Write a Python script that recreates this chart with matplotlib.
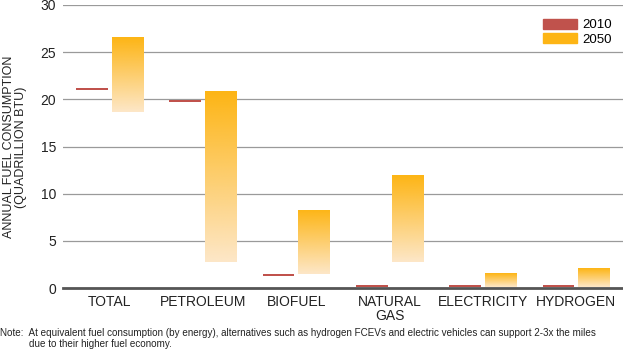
import numpy as np
import matplotlib
matplotlib.use("Agg")
import matplotlib.pyplot as plt
from matplotlib.colors import LinearSegmentedColormap
from matplotlib.patches import Patch

plt.rcParams['font.family'] = ['Liberation Sans', 'DejaVu Sans']

# data (quadrillion BTU)
categories = ['TOTAL', 'PETROLEUM', 'BIOFUEL', 'NATURAL\nGAS', 'ELECTRICITY', 'HYDROGEN']
val_2010 = [21.1, 19.8, 1.4, 0.2, 0.2, 0.2]
low_2050 = [18.7, 2.8, 1.5, 2.8, 0.15, 0.15]
high_2050 = [26.6, 20.9, 8.3, 12.0, 1.6, 2.1]

c2010 = '#c0524c'
c2050 = '#fdb515'
grad = LinearSegmentedColormap.from_list('g', ['#fde7c8', '#fdb515'])

fig = plt.figure(figsize=(6.23, 3.5), dpi=100)
ax = fig.add_axes([63/623, 62/350, 560/623, 283/350])

x = np.arange(len(categories))
w = 0.34

# 2010: thin line marks
ax.bar(x - 0.19, 0.22, bottom=np.array(val_2010) - 0.11, width=w, color=c2010, zorder=3)

# 2050: floating bars with vertical gradient
bars = ax.bar(x + 0.19, np.array(high_2050) - np.array(low_2050), bottom=low_2050,
              width=w, color='none', zorder=3)
g = np.linspace(0, 1, 256).reshape(-1, 1)
for b in bars:
    x0, y0 = b.get_x(), b.get_y()
    im = ax.imshow(g, cmap=grad, origin='lower', aspect='auto', zorder=3,
                   extent=[x0, x0 + b.get_width(), y0, y0 + b.get_height()])
    im.set_clip_path(b)

ax.set_xlim(-0.5, 5.5)
ax.set_ylim(0, 30)
ax.set_yticks(np.arange(0, 31, 5))
ax.yaxis.grid(True, color='#9a9a9a', linewidth=0.9)
ax.set_axisbelow(True)
for s in ['left', 'right', 'top']:
    ax.spines[s].set_visible(False)
ax.spines['bottom'].set_color('#555555')
ax.spines['bottom'].set_linewidth(2)
ax.tick_params(axis='both', length=0, labelsize=10, colors='#222222', pad=5)
ax.tick_params(axis='y', pad=5)
ax.set_xticks(x)
ax.set_xticklabels(categories, linespacing=1.0)

fig.text(0.024, 0.58, 'ANNUAL FUEL CONSUMPTION\n(QUADRILLION BTU)', rotation=90,
         ha='center', va='center', fontsize=9, linespacing=1.0, color='#222222')

handles = [Patch(color=c2010, label='2010'), Patch(color=c2050, label='2050')]
ax.legend(handles=handles, loc='upper right', bbox_to_anchor=(0.995, 0.98), frameon=False,
          fontsize=9.5, handlelength=2.6, handleheight=0.85, handletextpad=0.4,
          labelspacing=0.1, borderaxespad=0.2)

fig.text(0.0, 0.048, 'Note:  At equivalent fuel consumption (by energy), alternatives such as hydrogen FCEVs and electric vehicles can support 2-3x the miles',
         fontsize=7.1, color='#222222', va='center')
fig.text(29/623, 0.016, 'due to their higher fuel economy.', fontsize=7.1, color='#222222', va='center')

fig.savefig('out.png', dpi=100)
